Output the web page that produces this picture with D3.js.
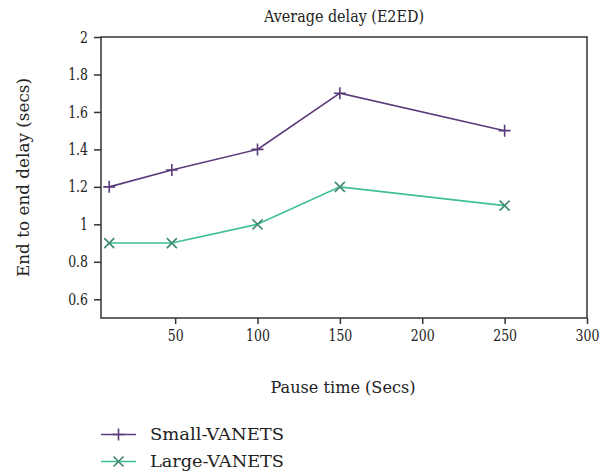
<!DOCTYPE html>
<html>
<head>
<meta charset="utf-8">
<script src="https://cdn.jsdelivr.net/npm/d3@7"></script>
<style>
  body { margin: 0; background: #fff; }
  svg text { fill: #222; }
</style>
</head>
<body>
<svg id="chart"></svg>
<script>
/*chart data*/
const pauseTimes = [10, 48, 100, 150, 250];
const smallVanets = [1.2, 1.29, 1.4, 1.7, 1.5];
const largeVanets = [0.9, 0.9, 1.0, 1.2, 1.1];
const xTicks = [50, 100, 150, 200, 250, 300];
const yTicks = [0.6, 0.8, 1, 1.2, 1.4, 1.6, 1.8, 2];
const seriesNames = ["Small-VANETS", "Large-VANETS"];

const width = 614;
const height = 474;
const margin = {left: 101, right: 27, top: 37, bottom: 156};
const serif = "'DejaVu Serif', serif";

const svg = d3.select("#chart")
       .attr("width", width)
       .attr("height", height);

/*squeeze the wide DejaVu Serif glyphs so text widths match the original*/
function condense(sel, factor) {
       sel.each(function(){
              const w = this.getComputedTextLength();
              d3.select(this).attr("textLength", w * factor).attr("lengthAdjust", "spacingAndGlyphs");
       });
}

const x = d3.scaleLinear().domain([5, 300]).range([margin.left, width - margin.right]);
const y = d3.scaleLinear().domain([0.5, 2]).range([height - margin.bottom, margin.top]);

/*axes*/
const xAxis = svg.append("g")
       .attr("transform", "translate(0," + (height - margin.bottom) + ")")
       .call(d3.axisBottom(x).tickValues(xTicks).tickSize(6).tickPadding(6).tickFormat(d3.format("d")))
       .call(g => g.select(".domain").remove());

const yAxis = svg.append("g")
       .attr("transform", "translate(" + margin.left + ",0)")
       .call(d3.axisLeft(y).tickValues(yTicks).tickSize(7).tickPadding(6).tickFormat(d => String(d)))
       .call(g => g.select(".domain").remove());

svg.selectAll(".tick text").attr("font-family", serif).attr("font-size", 16);
svg.selectAll(".tick line").attr("stroke", "#333").attr("stroke-width", 1.5);
condense(svg.selectAll(".tick text"), 0.78);

/*plot frame*/
svg.append("rect")
       .attr("x", margin.left)
       .attr("y", margin.top)
       .attr("width", width - margin.right - margin.left)
       .attr("height", height - margin.bottom - margin.top)
       .attr("fill", "none")
       .attr("stroke", "#333")
       .attr("stroke-width", 1.5);

const series = [
       {name: seriesNames[0], values: smallVanets, line: "#5b3b7a", mark: "#5b3b7a", shape: "plus"},
       {name: seriesNames[1], values: largeVanets, line: "#3dbf92", mark: "#3f8a70", shape: "cross"}
];

function marker(shape, cx, cy, r) {
       if (shape === "plus") {
              return "M" + (cx - r) + "," + cy + "H" + (cx + r) + "M" + cx + "," + (cy - r) + "V" + (cy + r);
       }
       return "M" + (cx - r) + "," + (cy - r) + "L" + (cx + r) + "," + (cy + r) +
              "M" + (cx - r) + "," + (cy + r) + "L" + (cx + r) + "," + (cy - r);
}

const line = d3.line().x(d => x(d[0])).y(d => y(d[1]));

series.forEach(s => {
       const pts = pauseTimes.map((t, i) => [t, s.values[i]]);
       svg.append("path")
              .attr("d", line(pts))
              .attr("fill", "none")
              .attr("stroke", s.line)
              .attr("stroke-width", 1.6);
       svg.append("g").selectAll("path")
              .data(pts)
              .enter()
              .append("path")
              .attr("d", d => marker(s.shape, x(d[0]), y(d[1]), s.shape === "plus" ? 6 : 5))
              .attr("stroke", s.mark)
              .attr("stroke-width", 1.6)
              .attr("fill", "none");
});

/*title and labels*/
svg.append("text")
       .text("Average delay (E2ED)")
       .attr("x", (margin.left + width - margin.right) / 2)
       .attr("y", 22)
       .attr("text-anchor", "middle")
       .attr("font-family", serif)
       .attr("font-size", 16)
       .attr("textLength", 160)
       .attr("lengthAdjust", "spacingAndGlyphs");

svg.append("text")
       .text("Pause time (Secs)")
       .attr("x", 343)
       .attr("y", 393)
       .attr("text-anchor", "middle")
       .attr("font-family", serif)
       .attr("font-size", 16)
       .attr("textLength", 145)
       .attr("lengthAdjust", "spacingAndGlyphs");

svg.append("text")
       .text("End to end delay (secs)")
       .attr("transform", "translate(29,177.5) rotate(-90)")
       .attr("text-anchor", "middle")
       .attr("font-family", serif)
       .attr("font-size", 16)
       .attr("textLength", 199)
       .attr("lengthAdjust", "spacingAndGlyphs");

/*legend*/
series.forEach((s, i) => {
       const ly = 434.5 + i * 27;
       svg.append("line")
              .attr("x1", 101).attr("x2", 136)
              .attr("y1", ly).attr("y2", ly)
              .attr("stroke", s.line)
              .attr("stroke-width", 1.6);
       svg.append("path")
              .attr("d", marker(s.shape, 118.5, ly, s.shape === "plus" ? 6 : 5))
              .attr("stroke", s.mark)
              .attr("stroke-width", 1.6)
              .attr("fill", "none");
       svg.append("text")
              .text(s.name)
              .attr("x", 150)
              .attr("y", ly + 5)
              .attr("font-family", serif)
              .attr("font-size", 16)
              .attr("textLength", 134)
              .attr("lengthAdjust", "spacingAndGlyphs");
});
</script>
</body>
</html>
